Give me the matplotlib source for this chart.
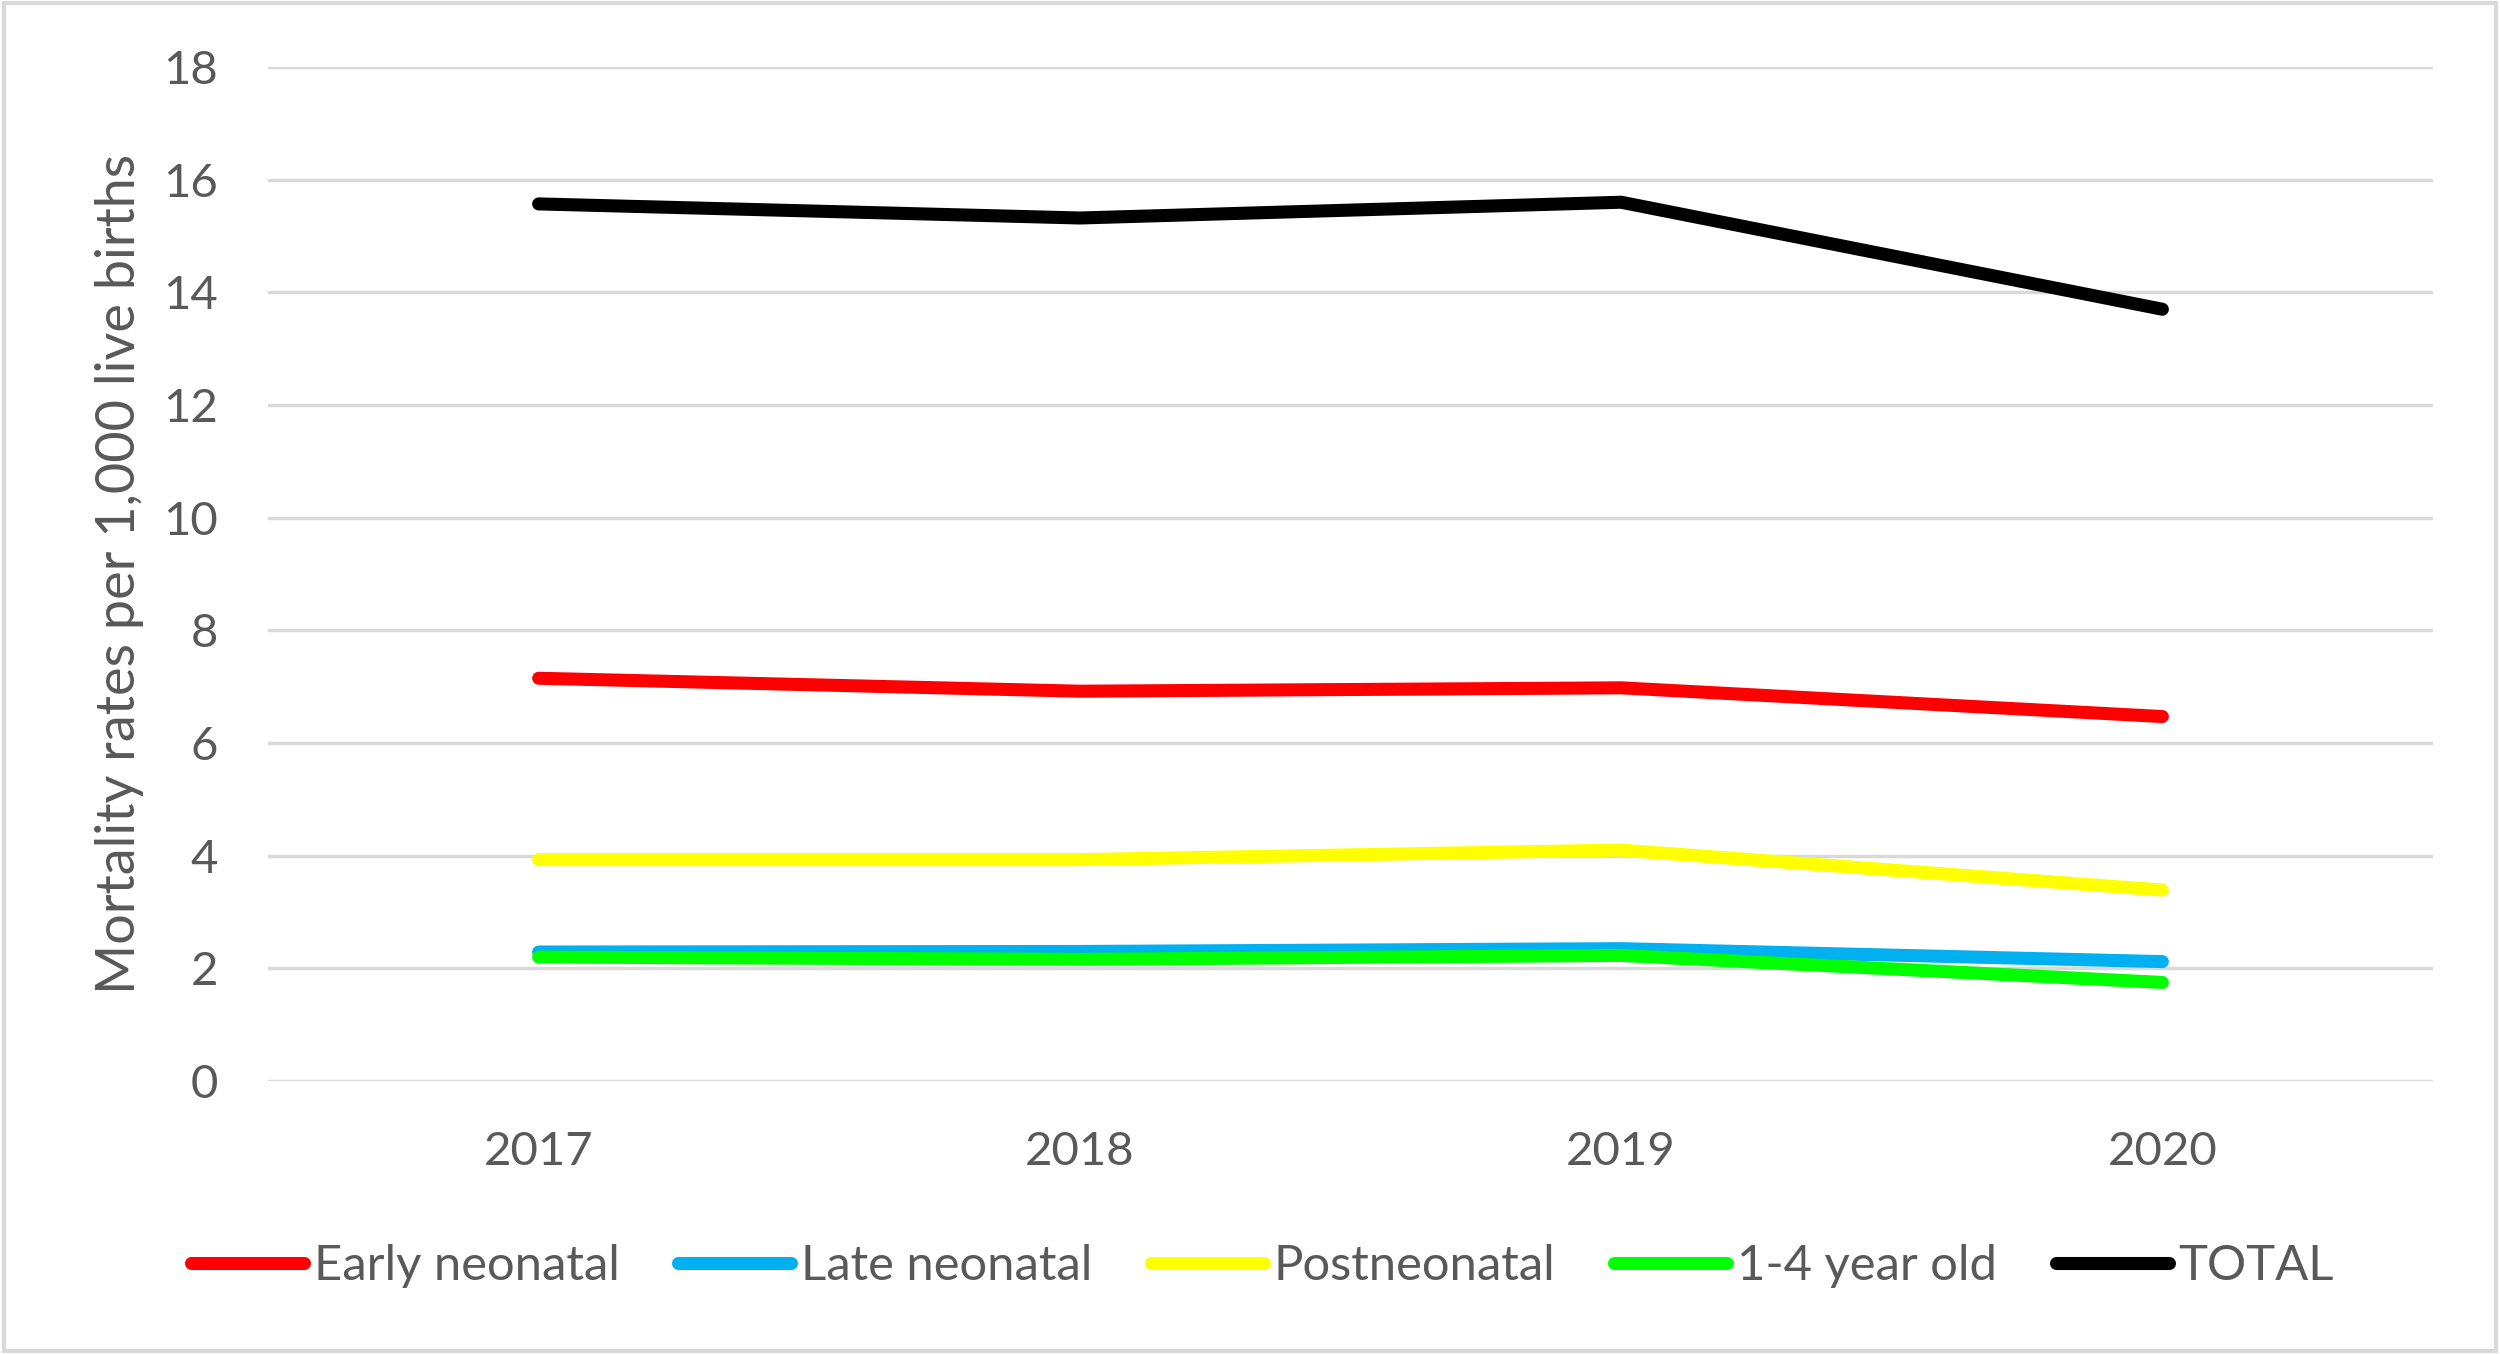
import matplotlib
matplotlib.use("Agg")
import matplotlib.pyplot as plt
from matplotlib.patches import Rectangle

years = ["2017", "2018", "2019", "2020"]
early_neonatal = [7.15, 6.92, 6.98, 6.47]
late_neonatal = [2.29, 2.30, 2.35, 2.12]
postneonatal = [3.93, 3.93, 4.10, 3.39]
one_to_four = [2.20, 2.16, 2.23, 1.75]
total = [15.57, 15.32, 15.60, 13.70]

series_names = ["Early neonatal", "Late neonatal", "Postneonatal", "1-4 year old", "TOTAL"]
series_values = [early_neonatal, late_neonatal, postneonatal, one_to_four, total]
series_colors = ["#FF0000", "#00B0F0", "#FFFF00", "#00FF00", "#000000"]

yticks = list(range(0, 19, 2))

plt.rcParams['font.family'] = ['Lato', 'DejaVu Sans']
text_color = "#595959"

fig = plt.figure(figsize=(25, 13.54), dpi=100)
ax = fig.add_axes([0.1072, 0.2016, 0.866, 0.7489])

x = [i + 0.5 for i in range(len(years))]
for name, vals, col in zip(series_names, series_values, series_colors):
    ax.plot(x, vals, color=col, lw=9.4, solid_capstyle='round',
            solid_joinstyle='miter', label=name)

ax.set_xlim(0, len(years))
ax.set_ylim(0, 18)
ax.set_xticks(x)
ax.set_xticklabels(years)
ax.set_yticks(yticks)
ax.set_yticklabels([str(t) for t in yticks])
ax.tick_params(axis='both', length=0, labelsize=34, colors=text_color, pad=36)
ax.grid(axis='y', color="#D9D9D9", lw=2.5)
ax.set_axisbelow(True)
for s in ax.spines.values():
    s.set_visible(False)

ax.set_ylabel("Mortality rates per 1,000 live births", fontsize=38.9,
              color=text_color, labelpad=14)

leg = fig.legend(loc='center', bbox_to_anchor=(0.505, 0.065), ncol=5,
                 frameon=False, fontsize=35.3, handlelength=2.3,
                 handletextpad=0.2, columnspacing=1.2, labelcolor=text_color)

fig.patches.append(Rectangle((0.0015, 0.002), 0.997, 0.996, transform=fig.transFigure,
                             fill=False, edgecolor="#D9D9D9", lw=3))

fig.savefig("out.png", dpi=100, facecolor="white")
